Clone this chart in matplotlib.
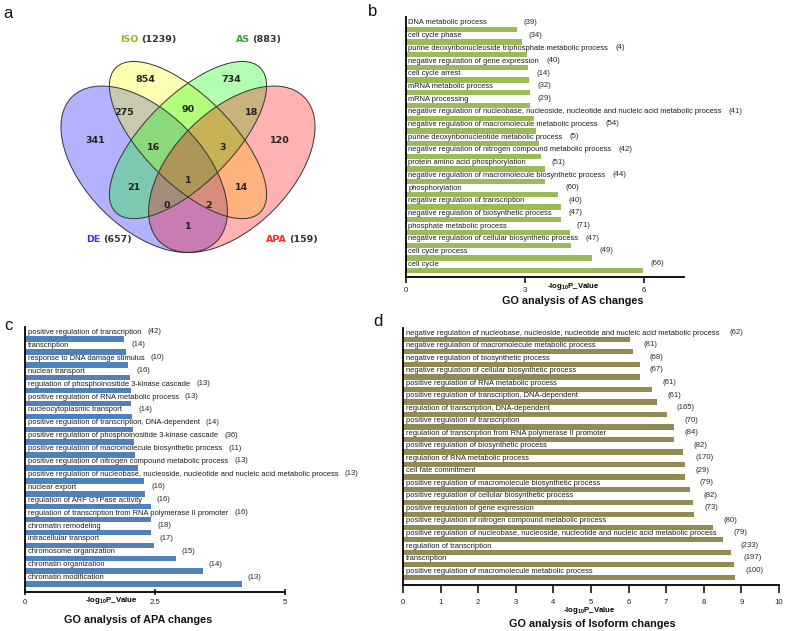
import numpy as np
import matplotlib
matplotlib.use('Agg')
import matplotlib.pyplot as plt
from matplotlib.patches import Ellipse

plt.rcParams['font.family'] = ['Liberation Sans', 'DejaVu Sans']
plt.rcParams['mathtext.fontset'] = 'custom'
plt.rcParams['mathtext.rm'] = 'Liberation Sans'
plt.rcParams['mathtext.bf'] = 'Liberation Sans:bold'

W, H = 787, 631

# ---------------- panel a: venn ----------------
venn_sets = ['DE', 'ISO', 'AS', 'APA']
venn_sizes = [657, 1239, 883, 159]
venn_regions = ['ISO', 'AS', 'DE&ISO', 'ISO&AS', 'AS&APA', 'DE', 'DE&ISO&AS',
                'ISO&AS&APA', 'APA', 'DE&AS', 'DE&ISO&AS&APA', 'ISO&APA',
                'DE&AS&APA', 'DE&ISO&APA', 'DE&APA']
venn_counts = [854, 734, 275, 90, 18, 341, 16, 3, 120, 21, 1, 14, 0, 2, 1]

# ---------------- panel b: AS ----------------
as_terms = ['DNA metabolic process',
            'cell cycle phase',
            'purine deoxyribonucleoside triphosphate metabolic process',
            'negative regulation of gene expression',
            'cell cycle arrest',
            'mRNA metabolic process',
            'mRNA processing',
            'negative regulation of nucleobase, nucleoside, nucleotide and nucleic acid metabolic process',
            'negative regulation of macromolecule metabolic process',
            'purine deoxyribonucleotide metabolic process',
            'negative regulation of nitrogen compound metabolic process',
            'protein amino acid phosphorylation',
            'negative regulation of macromolecule biosynthetic process',
            'phosphorylation',
            'negative regulation of transcription',
            'negative regulation of biosynthetic process',
            'phosphate metabolic process',
            'negative regulation of cellular biosynthetic process',
            'cell cycle process',
            'cell cycle']
as_counts = [39, 34, 4, 40, 14, 32, 29, 41, 54, 5, 42, 51, 44, 60, 40, 47, 71, 47, 49, 66]
as_logp = [2.79, 2.92, 3.06, 3.09, 3.11, 3.13, 3.14, 3.24, 3.28, 3.35, 3.40, 3.50,
           3.51, 3.84, 3.91, 3.92, 4.13, 4.15, 4.69, 5.97]

# ---------------- panel c: APA ----------------
apa_terms = ['positive regulation of transcription',
             'transcription',
             'response to DNA damage stimulus',
             'nuclear transport',
             'regulation of phosphoinositide 3-kinase cascade',
             'positive regulation of RNA metabolic process',
             'nucleocytoplasmic transport',
             'positive regulation of transcription, DNA-dependent',
             'positive regulation of phosphoinositide 3-kinase cascade',
             'positive regulation of macromolecule biosynthetic process',
             'positive regulation of nitrogen compound metabolic process',
             'positive regulation of nucleobase, nucleoside, nucleotide and nucleic acid metabolic process',
             'nuclear export',
             'regulation of ARF GTPase activity',
             'regulation of transcription from RNA polymerase II promoter',
             'chromatin remodeling',
             'intracellular transport',
             'chromosome organization',
             'chromatin organization',
             'chromatin modification']
apa_counts = [42, 14, 10, 16, 13, 13, 14, 14, 36, 11, 13, 13, 16, 16, 16, 18, 17, 15, 14, 13]
apa_logp = [1.90, 1.94, 1.99, 2.02, 2.04, 2.04, 2.06, 2.07, 2.10, 2.12, 2.17, 2.29,
            2.31, 2.42, 2.43, 2.43, 2.48, 2.90, 3.42, 4.17]

# ---------------- panel d: isoform ----------------
iso_terms = ['negative regulation of nucleobase, nucleoside, nucleotide and nucleic acid metabolic process',
             'negative regulation of macromolecule metabolic process',
             'negative regulation of biosynthetic process',
             'negative regulation of cellular biosynthetic process',
             'positive regulation of RNA metabolic process',
             'positive regulation of transcription, DNA-dependent',
             'regulation of transcription, DNA-dependent',
             'positive regulation of transcription',
             'regulation of transcription from RNA polymerase II promoter',
             'positive regulation of biosynthetic process',
             'regulation of RNA metabolic process',
             'cell fate commitment',
             'positive regulation of macromolecule biosynthetic process',
             'positive regulation of cellular biosynthetic process',
             'positive regulation of gene expression',
             'positive regulation of nitrogen compound metabolic process',
             'positive regulation of nucleobase, nucleoside, nucleotide and nucleic acid metabolic process',
             'regulation of transcription',
             'transcription',
             'positive regulation of macromolecule metabolic process']
iso_counts = [62, 81, 68, 67, 61, 61, 165, 70, 84, 82, 170, 29, 79, 82, 73, 80, 79, 233, 197, 100]
iso_logp = [6.05, 6.13, 6.29, 6.30, 6.63, 6.76, 7.02, 7.22, 7.22, 7.45, 7.50, 7.50,
            7.62, 7.72, 7.75, 8.25, 8.52, 8.72, 8.80, 8.83]


def px2fig(x, y):
    return x / W, 1 - y / H


fig = plt.figure(figsize=(W / 100, H / 100), dpi=100)

# venn axes: data units 0..1 mapped onto a 292 px square
axv = fig.add_axes([42 / W, 1 - 306.5 / H, 292 / W, 292 / H])
axv.set_xlim(0, 1)
axv.set_ylim(0, 1)
axv.axis('off')
ell_shape = {'DE': ((0.35, 0.47), 0.70, 0.40, 135),
             'ISO': ((0.50, 0.57), 0.70, 0.30, 135),
             'AS': ((0.50, 0.57), 0.70, 0.30, 45),
             'APA': ((0.65, 0.47), 0.70, 0.40, 45)}
fill = {'DE': 'blue', 'ISO': 'yellow', 'AS': (0, 1, 0), 'APA': 'red'}
for s in venn_sets:
    c, w, h, a = ell_shape[s]
    axv.add_patch(Ellipse(c, w, h, angle=a, facecolor=fill[s], alpha=0.3, edgecolor='none'))
for s in venn_sets:
    c, w, h, a = ell_shape[s]
    axv.add_patch(Ellipse(c, w, h, angle=a, facecolor='none', edgecolor='#333333', lw=0.7))

region_xy = [(0.353, 0.776), (0.647, 0.776), (0.281, 0.665), (0.500, 0.673), (0.718, 0.665),
             (0.184, 0.567), (0.381, 0.544), (0.619, 0.544), (0.815, 0.567), (0.316, 0.408),
             (0.500, 0.433), (0.684, 0.408), (0.427, 0.345), (0.572, 0.345), (0.500, 0.273)]
for (x, y), n in zip(region_xy, venn_counts):
    axv.text(x, y, str(n), ha='center', va='center', fontsize=6.8, fontweight='bold',
             family='DejaVu Sans', color='#222222')

set_color = {'DE': '#3535ff', 'ISO': '#a8a82a', 'AS': '#2ea62e', 'APA': '#ff2a2a'}
set_xy = {'DE': (0.200, 0.228), 'ISO': (0.330, 0.913), 'AS': (0.712, 0.913), 'APA': (0.838, 0.228)}
for s, n in zip(venn_sets, venn_sizes):
    x, y = set_xy[s]
    axv.text(x, y, s, ha='right', va='center', fontsize=6.8, fontweight='bold',
             family='DejaVu Sans', color=set_color[s])
    axv.text(x + 0.008, y, '(%d)' % n, ha='left', va='center', fontsize=6.8,
             fontweight='bold', family='DejaVu Sans', color='#333333')


def draw_go(box, terms, counts, values, color, xmax, xticks, ticklabels, tickdir):
    left, top, right, bottom, bar0, step = box
    ax = fig.add_axes([left / W, 1 - bottom / H, (right - left) / W, (bottom - top) / H])
    y = np.arange(len(terms))
    ax.barh(y, values, height=0.42, color=color)
    ax.set_xlim(0, xmax)
    ax.set_ylim((bottom - bar0) / step, (top - bar0) / step)
    for sp in ['top', 'right']:
        ax.spines[sp].set_visible(False)
    ax.spines['left'].set_linewidth(1.3)
    ax.spines['bottom'].set_linewidth(1.3)
    ax.set_yticks([])
    ax.set_xticks(xticks)
    ax.set_xticklabels(ticklabels)
    ax.tick_params(axis='x', direction=tickdir, length=4.5, width=1.1, labelsize=5.6,
                   pad=3, labelcolor='#222222')
    labels = []
    for i, t in enumerate(terms):
        labels.append(ax.annotate(t, xy=(0, i - 0.5), xytext=(3, 0), textcoords='offset pixels',
                                  ha='left', va='center', fontsize=5.45, color='#1a1a1a'))
    return ax, labels


panels = []
ax_b, lab_b = draw_go((405.5, 16.7, 684, 276.7, 29.3, 12.7), as_terms, as_counts, as_logp,
                      '#9bbb59', 7, [0, 3, 6], ['0', '3', '6'], 'out')
panels.append((ax_b, lab_b, as_counts, as_logp, 7))
ax_c, lab_c = draw_go((25, 327, 285, 591.7, 339, 12.9), apa_terms, apa_counts, apa_logp,
                      '#4f81bd', 5, [0, 2.5, 5], ['0', '2.5', '5'], 'inout')
panels.append((ax_c, lab_c, apa_counts, apa_logp, 6))
ax_d, lab_d = draw_go((403, 328, 779, 585, 339.3, 12.53), iso_terms, iso_counts, iso_logp,
                      '#948a54', 10, list(range(11)), [str(i) for i in range(11)], 'out')
ax_d.tick_params(axis='x', length=6, pad=4)
panels.append((ax_d, lab_d, iso_counts, iso_logp, 10))

# counts go after whichever ends later: the label text or the bar
fig.canvas.draw()
renderer = fig.canvas.get_renderer()
for ax, labels, counts, values, gap in panels:
    inv = ax.transData.inverted()
    for i, (t, n, v) in enumerate(zip(labels, counts, values)):
        text_end = t.get_window_extent(renderer).x1
        bar_end = ax.transData.transform((v, i))[0]
        xd = inv.transform((max(text_end, bar_end) + gap, 0))[0]
        ax.text(xd, i - 0.55, '(%d)' % n, ha='left', va='center', fontsize=5.6, color='#2a2a2a')

xlab = r'-log$_{\mathbf{10}}$P_Value'
for (x, y) in [(573, 287), (111, 601), (589, 610)]:
    fig.text(*px2fig(x, y), xlab, ha='center', va='center', fontsize=5.6, fontweight='bold')

for (x, y), t in [((573, 301), 'GO analysis of AS changes'),
                  ((138, 620), 'GO analysis of APA changes'),
                  ((592, 624), 'GO analysis of Isoform changes')]:
    fig.text(*px2fig(x, y), t, ha='center', va='center', fontsize=7.8, fontweight='bold',
             color='#111111')

for (x, y), t in [((8, 13), 'a'), ((373, 11), 'b'), ((8, 326), 'c'), ((378, 322), 'd')]:
    fig.text(*px2fig(x, y), t, ha='center', va='center', fontsize=12, color='#111111')

fig.savefig('out.png', dpi=100)
